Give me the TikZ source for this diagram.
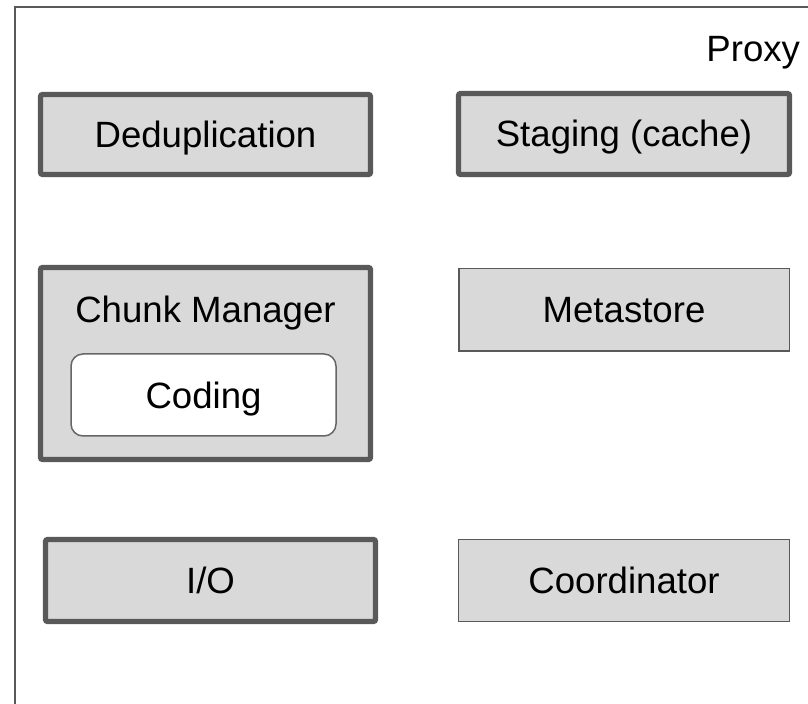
\documentclass[tikz,border=0pt]{standalone}
\usepackage{fontspec}
\setmainfont{Liberation Sans}
\definecolor{boxfill}{HTML}{D9D9D9}
\definecolor{boxline}{HTML}{595959}
\definecolor{codeline}{HTML}{666666}
\begin{document}
\begin{tikzpicture}[x=0.5pt,y=-0.5pt,
  every node/.style={font=\fontsize{18.3pt}{22pt}\selectfont, inner sep=0pt, outer sep=0pt},
  capcenter/.style={text height=13pt, text depth=0pt},
  thickbox/.style={draw=boxline, fill=boxfill, line width=2.6pt, rounded corners=1pt, capcenter},
  thinbox/.style={draw=boxline, fill=boxfill, line width=0.75pt, capcenter},
  codebox/.style={draw=codeline, fill=white, line width=0.75pt, rounded corners=6pt, text height=17pt, text depth=3pt}
]
\clip (0,0) rectangle (808,704);
\useasboundingbox (0,0) rectangle (808,704);
\fill[white] (0,0) rectangle (808,704);
\draw[boxline, line width=0.8pt] (15,7) rectangle (830,730);
\node[anchor=base east] (proxy) at (800,62) {Proxy};

\node[thickbox, minimum width=165pt, minimum height=40pt] (dedup) at (205.5,134.5) {Deduplication};
\node[thickbox, minimum width=165.5pt, minimum height=40.5pt] (staging) at (624,134) {Staging (cache)};

\node[thickbox, minimum width=165pt, minimum height=96pt] (chunk) at (205.5,363.5) {};
\node[capcenter] (chunktitle) at (205.5,310) {Chunk Manager};
\node[codebox, minimum width=132.5pt, minimum height=41pt] (coding) at (203.5,395) {Coding};

\node[thinbox, minimum width=165.25pt, minimum height=41.25pt] (meta) at (624,310) {Metastore};

\node[thickbox, minimum width=165pt, minimum height=41pt] (io) at (210.5,580.5) {I/O};
\node[thinbox, minimum width=165.5pt, minimum height=41pt] (coord) at (624,580.5) {Coordinator};
\end{tikzpicture}
\end{document}
